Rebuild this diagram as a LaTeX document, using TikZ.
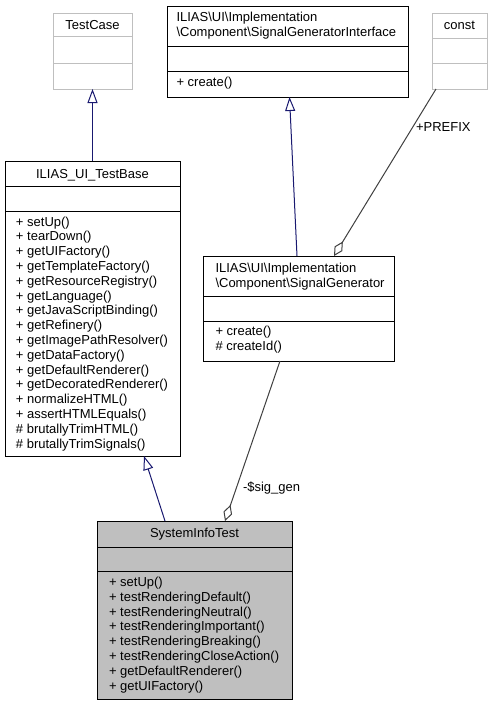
\documentclass[tikz,border=0pt]{standalone}
\usepackage{fontspec}
\setmainfont{Liberation Sans}
\usetikzlibrary{arrows.meta,calc}
\definecolor{extgray}{HTML}{BFBFBF}
\definecolor{inhblue}{HTML}{191970}
\definecolor{agggray}{HTML}{404040}
\definecolor{sitfill}{HTML}{BFBFBF}
\newcommand\umlfont{\fontsize{13}{14.8}\selectfont}
\newcommand\bs{\textbackslash}
\tikzset{
  cls/.style={rectangle, draw=black, line width=1pt, fill=white, inner sep=0pt, outer sep=0pt},
  ext/.style={cls, draw=extgray},
  divline/.style={line width=1pt},
  txt/.style={inner sep=0pt, outer sep=0pt, anchor=base west, font=\umlfont},
  ttl/.style={inner sep=0pt, outer sep=0pt, anchor=base, font=\umlfont},
  inh/.style={draw=inhblue, line width=1pt, -{Triangle[open, length=14pt, width=10pt]}},
  agg/.style={draw=agggray, line width=1pt, -{Diamond[open, length=17pt, width=9pt]}}
}
\begin{document}
\begin{tikzpicture}[x=1pt,y=-1pt]
\useasboundingbox[fill=white] (0,0) rectangle (492,705);

% TestCase
\node[ext, minimum width=79pt, minimum height=76pt] (tc) at (92.5,51) {};
\draw[divline, extgray] ($(tc.north west)+(0,23.5)$) -- ($(tc.north east)+(0,23.5)$);
\draw[divline, extgray] ($(tc.north west)+(0,50)$) -- ($(tc.north east)+(0,50)$);
\node[ttl] (tct) at (92.5,29.5) {TestCase};

% SignalGeneratorInterface
\node[cls, minimum width=241pt, minimum height=91pt] (iface) at (287.5,51.5) {};
\draw[divline] ($(iface.north west)+(0,40)$) -- ($(iface.north east)+(0,40)$);
\draw[divline] ($(iface.north west)+(0,65)$) -- ($(iface.north east)+(0,65)$);
\node[txt] (ifacet1) at (176.5,21.5) {ILIAS\bs UI\bs Implementation};
\node[txt] (ifacet2) at (176.5,36.3) {\bs Component\bs SignalGeneratorInterface};
\node[txt] (ifacem1) at (176.5,86) {+ create()};

% const
\node[ext, minimum width=55pt, minimum height=76pt] (cst) at (459.5,51) {};
\draw[divline, extgray] ($(cst.north west)+(0,25)$) -- ($(cst.north east)+(0,25)$);
\draw[divline, extgray] ($(cst.north west)+(0,50)$) -- ($(cst.north east)+(0,50)$);
\node[ttl] (cstt) at (459.5,29) {const};

% ILIAS_UI_TestBase
\node[cls, minimum width=175pt, minimum height=295pt] (tb) at (92.5,308.5) {};
\draw[divline] ($(tb.north west)+(0,25)$) -- ($(tb.north east)+(0,25)$);
\draw[divline] ($(tb.north west)+(0,50)$) -- ($(tb.north east)+(0,50)$);
\node[ttl] (tbt) at (92.5,178.5) {ILIAS\_UI\_TestBase};
\foreach \m [count=\i] in {+ setUp(), + tearDown(), + getUIFactory(), + getTemplateFactory(),
  + getResourceRegistry(), + getLanguage(), + getJavaScriptBinding(), + getRefinery(),
  + getImagePathResolver(), + getDataFactory(), + getDefaultRenderer(), + getDecoratedRenderer(),
  + normalizeHTML(), + assertHTMLEquals(), \# brutallyTrimHTML(), \# brutallyTrimSignals()}
  \node[txt] (tbm\i) at (16,{226+14.8*(\i-1)}) {\m};

% SignalGenerator
\node[cls, minimum width=191pt, minimum height=105pt] (sg) at (298.5,308.5) {};
\draw[divline] ($(sg.north west)+(0,40)$) -- ($(sg.north east)+(0,40)$);
\draw[divline] ($(sg.north west)+(0,65)$) -- ($(sg.north east)+(0,65)$);
\node[txt] (sgt1) at (215.5,272.5) {ILIAS\bs UI\bs Implementation};
\node[txt] (sgt2) at (215.5,287.3) {\bs Component\bs SignalGenerator};
\node[txt] (sgm1) at (215.5,335.5) {+ create()};
\node[txt] (sgm2) at (215.5,350.3) {\# createId()};

% SystemInfoTest
\node[cls, fill=sitfill, minimum width=195pt, minimum height=178pt] (sit) at (194.5,610) {};
\draw[divline] ($(sit.north west)+(0,26)$) -- ($(sit.north east)+(0,26)$);
\draw[divline] ($(sit.north west)+(0,50)$) -- ($(sit.north east)+(0,50)$);
\node[ttl] (sitt) at (194.5,537.5) {SystemInfoTest};
\foreach \m [count=\i] in {+ setUp(), + testRenderingDefault(), + testRenderingNeutral(),
  + testRenderingImportant(), + testRenderingBreaking(), + testRenderingCloseAction(),
  + getDefaultRenderer(), + getUIFactory()}
  \node[txt] (sitm\i) at (109,{586.5+14.8*(\i-1)}) {\m};

% connectors
\draw[inh] (tb.north) -- (tc.south);
\draw[inh] ($(sg.north)+(-1.5,0)$) -- ($(iface.south)+(2,0)$);
\draw[agg] ($(cst.south west)+(4,0)$) -- ($(sg.north west)+(131,0)$);
\node[txt] (prefix) at (416,131.5) {+PREFIX};
\draw[inh] ($(sit.north west)+(68,0)$) -- ($(tb.south west)+(139,0)$);
\draw[agg] ($(sg.south west)+(77,0)$) -- ($(sit.north west)+(128,0)$);
\node[txt] (siggen) at (243,491) {-\$sig\_gen};
\end{tikzpicture}
\end{document}
